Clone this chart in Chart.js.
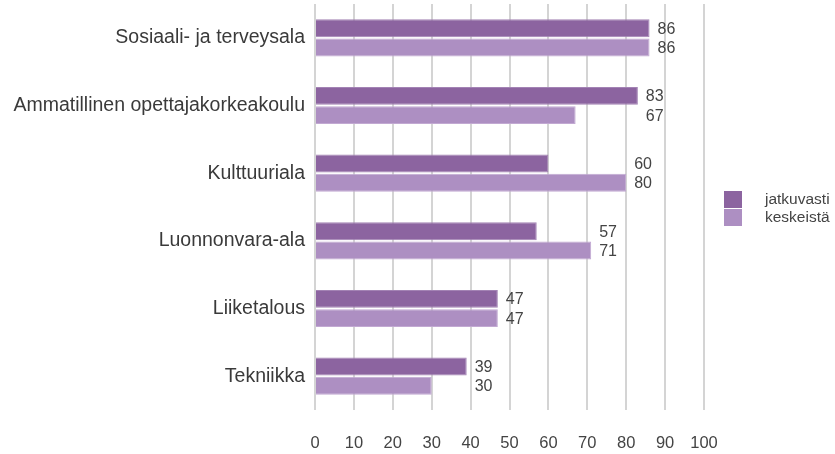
<!DOCTYPE html>
<html>
<head>
<meta charset="utf-8">
<script src="https://cdn.jsdelivr.net/npm/chart.js@4"></script>
<style>
    html, body { margin: 0; padding: 0; background: #ffffff; }
    #wrap { width: 835px; height: 454px; }
</style>
</head>
<body>
<div id="wrap"><canvas id="barChart" width="835" height="454"></canvas></div>
<script>
// Chart data
const categories = [
    'Sosiaali- ja terveysala',
    'Ammatillinen opettajakorkeakoulu',
    'Kulttuuriala',
    'Luonnonvara-ala',
    'Liiketalous',
    'Tekniikka'
];
const seriesNames = ['jatkuvasti', 'keskeistä'];
const jatkuvasti = [86, 83, 60, 57, 47, 39];
const keskeista = [86, 67, 80, 71, 47, 30];
const xTicks = [0, 10, 20, 30, 40, 50, 60, 70, 80, 90, 100];

const FONT = "'Liberation Sans', Arial, sans-serif";
const darkColor = '#8c64a0';
const lightColor = '#ad8fc2';

// Value labels next to the longer bar of each pair
const valueLabels = {
    id: 'valueLabels',
    afterDatasetsDraw(chart) {
        const ctx = chart.ctx;
        const m0 = chart.getDatasetMeta(0);
        const m1 = chart.getDatasetMeta(1);
        ctx.save();
        ctx.font = '16px ' + FONT;
        ctx.fillStyle = '#444444';
        ctx.textBaseline = 'middle';
        ctx.textAlign = 'left';
        categories.forEach((c, i) => {
            const b0 = m0.data[i];
            const b1 = m1.data[i];
            const x = Math.max(b0.x, b1.x) + 8;
            ctx.fillText(String(chart.data.datasets[0].data[i]), x, b0.y + 1);
            ctx.fillText(String(chart.data.datasets[1].data[i]), x, b1.y + 1);
        });
        ctx.restore();
    }
};

// Legend on the right
const sideLegend = {
    id: 'sideLegend',
    afterDraw(chart) {
        const ctx = chart.ctx;
        const colors = [darkColor, lightColor];
        ctx.save();
        ctx.font = '15.5px ' + FONT;
        ctx.textBaseline = 'middle';
        seriesNames.forEach((name, i) => {
            const y = 191 + i * 18;
            ctx.fillStyle = colors[i];
            ctx.fillRect(724, y, 18, 17);
            ctx.fillStyle = '#444444';
            ctx.fillText(name, 765, y + 9);
        });
        ctx.restore();
    }
};

new Chart(document.getElementById('barChart').getContext('2d'), {
    type: 'bar',
    data: {
        labels: categories,
        datasets: [{
            label: seriesNames[0],
            data: jatkuvasti,
            backgroundColor: darkColor,
            borderColor: '#a383b4',
            borderWidth: 1
        }, {
            label: seriesNames[1],
            data: keskeista,
            backgroundColor: lightColor,
            borderColor: '#c2a9d2',
            borderWidth: 1
        }]
    },
    options: {
        indexAxis: 'y',
        responsive: false,
        animation: false,
        categoryPercentage: 0.57,
        barPercentage: 0.93,
        layout: { padding: { top: 4, right: 131, bottom: 0, left: 0 } },
        plugins: {
            legend: { display: false },
            tooltip: { enabled: false }
        },
        scales: {
            x: {
                min: 0,
                max: 100,
                afterBuildTicks(scale) {
                    scale.ticks = xTicks.map(v => ({ value: v }));
                },
                afterFit(scale) { scale.height = 44; },
                grid: { color: '#d4d4d4', lineWidth: 2, drawTicks: false },
                border: { display: false },
                ticks: {
                    padding: 24,
                    color: '#444444',
                    font: { family: FONT, size: 16.5 }
                }
            },
            y: {
                afterFit(scale) {
                    scale.width = 315;
                    scale.paddingTop = 0;
                    scale.paddingBottom = 0;
                },
                grid: { display: false, drawTicks: false },
                border: { display: false },
                ticks: {
                    padding: 10,
                    color: '#3a3a3a',
                    font: { family: FONT, size: 19.5 }
                }
            }
        }
    },
    plugins: [valueLabels, sideLegend]
});
</script>
</body>
</html>
